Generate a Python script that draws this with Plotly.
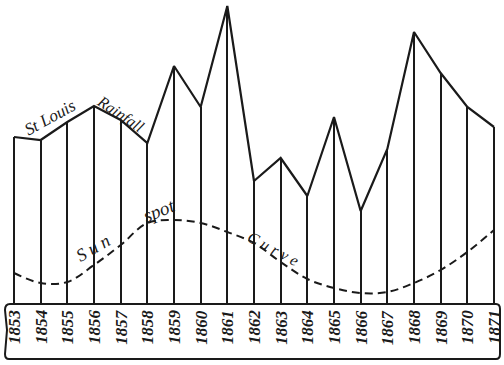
import plotly.graph_objects as go

years = [1853, 1854, 1855, 1856, 1857, 1858, 1859, 1860, 1861, 1862,
         1863, 1864, 1865, 1866, 1867, 1868, 1869, 1870, 1871]
rainfall = [41.75, 41.0, 45.5, 49.5, 46.0, 40.25, 59.5, 49.25, 74.5, 30.75,
            36.5, 27.0, 46.75, 23.25, 38.75, 68.0, 57.75, 49.25, 44.25]
sunspots = [7.75, 5.25, 5.5, 9.75, 14.75, 20.25, 21.0, 20.25, 18.0, 15.25,
            10.5, 6.25, 4.0, 2.75, 3.0, 5.25, 8.5, 13.0, 18.5]
year_labels = [str(y) for y in years]

W, H = 504, 365
BASE_PX = 304      # pixel row of the value 0
PX_PER_UNIT = 4.0
PX_PER_YEAR = 480 / 18
x0 = years[0] - 14 / PX_PER_YEAR
x1 = x0 + W / PX_PER_YEAR
y0 = -(H - BASE_PX) / PX_PER_UNIT
y1 = y0 + H / PX_PER_UNIT

def px(xp):
    return xp / W

def py(yp):
    return 1 - yp / H

fig = go.Figure()

# vertical rainfall lines
fig.add_trace(go.Bar(
    x=years, y=rainfall, width=2.0 / PX_PER_YEAR,
    marker=dict(color="#1a1a1a", line=dict(width=0)),
    hoverinfo="skip", showlegend=False,
))
# rainfall profile
fig.add_trace(go.Scatter(
    x=years, y=rainfall, mode="lines",
    line=dict(color="#1a1a1a", width=2.2),
    showlegend=False,
))
# sun-spot curve
fig.add_trace(go.Scatter(
    x=years, y=sunspots, mode="lines",
    line=dict(color="#1a1a1a", width=2, dash="8px,5px", shape="spline", smoothing=1.0),
    showlegend=False,
))

# label box
R, T, B = px(500), py(304), py(359)
path = (f"M {px(10)},{T} L {px(496)},{T} Q {R},{T} {R},{py(309)} "
        f"L {R},{py(354)} Q {R},{B} {px(496)},{B} L {px(9)},{B} "
        f"Q {px(5)},{B} {px(5)},{py(354)} L {px(7)},{py(330)} L {px(5)},{py(310)} "
        f"Q {px(5)},{T} {px(10)},{T} Z")
fig.add_shape(type="path", path=path, xref="paper", yref="paper",
              line=dict(color="#1a1a1a", width=2), fillcolor="rgba(0,0,0,0)")

year_font = dict(family="Liberation Serif", size=17, color="#1a1a1a")
for yr, lab in zip(years, year_labels):
    fig.add_annotation(x=yr, y=py(327), xref="x", yref="paper",
                       text=f"<b><i>{lab}</i></b>", textangle=-90,
                       showarrow=False, font=year_font,
                       xanchor="center", yanchor="middle")

labels = [
    ("<i>St Louis</i>", 50, 117, -29, 17),
    ("<i>Rainfall</i>", 120, 114, 34, 16),
    ("<i>S u n</i>", 93, 248, -30, 18),
    ("<i>spot</i>", 159, 211, -22, 19),
    ("<i>C u r v e</i>", 273, 248, 28, 16),
]
for t, xp, yp, ang, sz in labels:
    fig.add_annotation(x=px(xp), y=py(yp), xref="paper", yref="paper",
                       text=t, textangle=ang, showarrow=False,
                       font=dict(family="Liberation Serif", size=sz, color="#1a1a1a"),
                       xanchor="center", yanchor="middle")

fig.update_layout(
    width=W, height=H,
    margin=dict(l=0, r=0, t=0, b=0),
    paper_bgcolor="white", plot_bgcolor="white",
    bargap=0,
    hovermode=False,
    xaxis=dict(range=[x0, x1], visible=False, showgrid=False, zeroline=False),
    yaxis=dict(range=[y0, y1], visible=False, showgrid=False, zeroline=False),
    showlegend=False,
)

fig.write_html("out.html",
               config={"displayModeBar": False},
               post_script="document.body.style.margin='0';document.body.style.overflow='hidden';")
